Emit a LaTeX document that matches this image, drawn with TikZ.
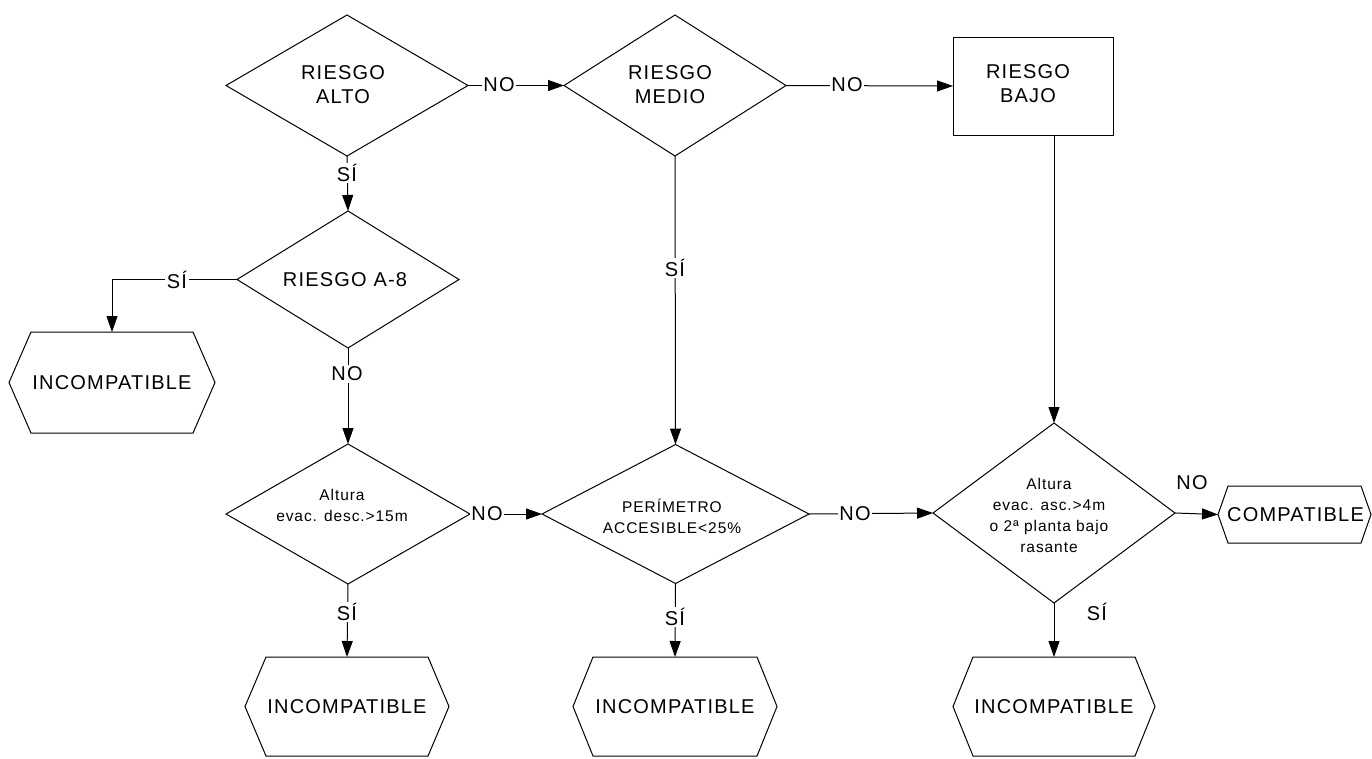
\documentclass[tikz,border=0pt]{standalone}
\usepackage{fontspec}
\setmainfont{Liberation Sans}[LetterSpace=6]
\usetikzlibrary{shapes.geometric,arrows.meta}
\newcommand{\hexdraw}[2]{\draw (#1.west) -- ([xshift=#2]#1.north west) -- ([xshift=-#2]#1.north east) -- (#1.east) -- ([xshift=-#2]#1.south east) -- ([xshift=#2]#1.south west) -- cycle;}
\begin{document}
\begin{tikzpicture}[x=1pt,y=-1pt,
  line width=1pt,
  dia/.style={draw, shape=diamond, inner sep=0pt, outer sep=0pt},
  boxnode/.style={draw, rectangle, inner sep=0pt, outer sep=0pt},
  hexbox/.style={rectangle, inner sep=0pt, outer sep=0pt, font=\fontsize{20}{24}\selectfont},
  big/.style={font=\fontsize{20}{24}\selectfont, align=center, inner sep=0pt},
  small/.style={font=\fontsize{15.5}{21}\selectfont, align=center, inner sep=0pt},
  conn/.style={-{Triangle[length=16pt,width=11pt]}},
  lab/.style={font=\fontsize{20}{24}\selectfont, fill=white, inner sep=1.5pt},
  plainlab/.style={font=\fontsize{20}{24}\selectfont, inner sep=0pt},
]
\useasboundingbox (0,0) rectangle (1372,758);

% decision diamonds
\node[dia, minimum width=242, minimum height=141] (alto) at (347,85.5) {};
\node[big] (altoT) at (343,85) {RIESGO\\ALTO};
\node[dia, minimum width=222, minimum height=141] (medio) at (675,85.5) {};
\node[big] (medioT) at (670,85) {RIESGO\\MEDIO};
\node[boxnode, minimum width=160, minimum height=98] (bajo) at (1033,86) {};
\node[big] (bajoT) at (1028,84) {RIESGO\\BAJO};

\node[dia, minimum width=222, minimum height=137] (a8) at (348,279.5) {};
\node[big] (a8T) at (345,280) {RIESGO A-8};

\node[dia, minimum width=244, minimum height=140] (altura) at (348,514) {};
\node[small] (alturaT) at (342,505) {Altura\\evac. desc.>15m};
\node[dia, minimum width=267, minimum height=139] (per) at (675.5,514) {};
\node[small] (perT) at (672,516) {PERÍMETRO\\ACCESIBLE<25\%};
\node[dia, minimum width=242, minimum height=180] (asc) at (1054,513) {};
\node[small] (ascT) at (1049,515) {Altura\\evac. asc.>4m\\o 2ª planta bajo\\rasante};

% terminal hexagons
\node[hexbox, minimum width=206, minimum height=101] (inc1) at (112,382.5) {INCOMPATIBLE};
\hexdraw{inc1}{22}
\node[hexbox, minimum width=204, minimum height=99] (inc2) at (347,706.5) {INCOMPATIBLE};
\hexdraw{inc2}{21}
\node[hexbox, minimum width=204, minimum height=99] (inc3) at (675,706.5) {INCOMPATIBLE};
\hexdraw{inc3}{20}
\node[hexbox, minimum width=202, minimum height=99] (inc4) at (1054,706.5) {INCOMPATIBLE};
\hexdraw{inc4}{20}
\node[hexbox, minimum width=153, minimum height=57] (comp) at (1294.5,514.5) {\hspace*{2pt}COMPATIBLE};
\hexdraw{comp}{10}

% connectors
\draw[conn] (alto.east) -- (medio.west);
\node[lab] (l1) at (499,85) {NO};
\draw[conn] (medio.east) -- (bajo.west);
\node[lab] (l2) at (847,85) {NO};
\draw[conn] (alto.south) -- (a8.north);
\node[lab] (l3) at (347,173) {SÍ};
\draw[conn] (a8.west) -| (inc1.north);
\node[lab] (l4) at (177,280) {SÍ};
\draw[conn] (a8.south) -- (altura.north);
\node[lab] (l5) at (347,374) {NO};
\draw[conn] (altura.east) -- (per.west);
\node[lab] (l6) at (487,514) {NO};
\draw[conn] (per.east) -- (asc.west);
\node[lab] (l7) at (855,514) {NO};
\draw[conn] (altura.south) -- (inc2.north);
\node[lab] (l8) at (347,612) {SÍ};
\draw[conn] (per.south) -- (inc3.north);
\node[lab] (l9) at (675,617) {SÍ};
\draw[conn] (medio.south) -- (per.north);
\node[lab] (l10) at (675,268) {SÍ};
\draw[conn] (asc.north |- bajo.south) -- (asc.north);
\draw[conn] (asc.east) -- (comp.west);
\node[plainlab] (l11) at (1192,483) {NO};
\draw[conn] (asc.south) -- (inc4.north);
\node[plainlab] (l12) at (1097,612) {SÍ};
\end{tikzpicture}
\end{document}
